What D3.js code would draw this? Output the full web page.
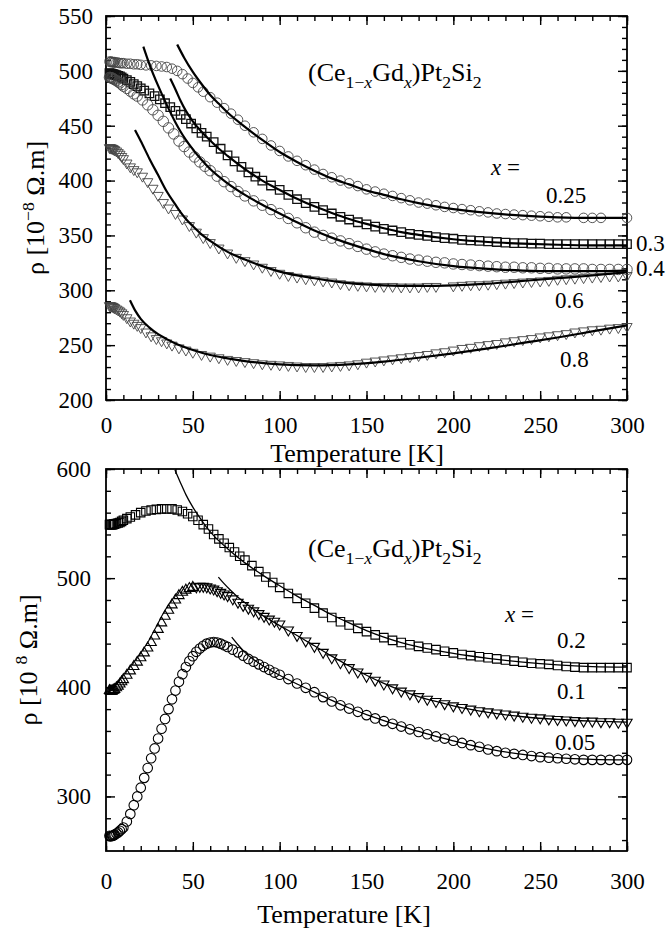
<!DOCTYPE html>
<html>
<head>
<meta charset="utf-8">
<script src="https://cdn.jsdelivr.net/npm/d3@7"></script>
<style>
  body { margin: 0; background: #fff; }
</style>
</head>
<body>
<svg id="chart" width="666" height="932"></svg>
<script>
// ---- top panel: x = 0.25, 0.3, 0.4, 0.6, 0.8  [T (K), rho]
var top25 = [[2,508.5],[2.5,508],[3,508.5],[3.5,508],[4,508],[4.5,507.5],[5,508],[6,507.5],[7,507.5],[8,507],[9,507],[10,507],[12,506.5],[14,506.5],[16,506],[18,506],[20,505.5],[23,505],[26,505],[29,504.5],[32,504],[35,503.5],[38,502],[41,500],[44,497],[47,493],[50,489],[53,485],[56,481],[60,476],[64,471],[68,466],[72,461],[76,455.5],[80,450],[85,444],[90,438],[95,432],[100,427],[105,422],[110,418],[115,414],[120,410],[125,406],[130,403],[135,400],[140,397.5],[145,395],[150,392],[155,390],[160,388],[165,386],[170,384],[175,382],[180,380],[185,379],[190,377.5],[195,376],[200,375],[205,374],[210,373],[215,372],[220,371],[225,370],[230,369.5],[235,369],[240,368.5],[245,368],[250,367.5],[255,367],[260,366.5],[265,366.5],[275,366],[280,366],[285,366],[300,366]];
var top30 = [[2,498],[2.5,497.5],[3,497.5],[3.5,497],[4,497],[4.5,496.5],[5,496.5],[6,496],[7,495.5],[8,495],[9,494],[10,493],[12,491.5],[14,490],[16,488],[18,486],[20,484],[22,482],[25,479.5],[28,477],[31,474],[34,470.5],[37,467],[40,463.5],[43,460],[46,456],[49,452],[52,447.5],[55,443.5],[58,440],[62,435],[66,429],[70,423],[74,417.5],[78,412.5],[82,407.5],[86,403.5],[90,400],[95,395.5],[100,391.5],[105,387],[110,383],[115,379.5],[120,376],[125,373],[130,370],[135,367],[140,364.5],[145,362],[150,360],[155,358],[160,356],[165,354.5],[170,353],[175,351.5],[180,350.5],[185,349.5],[190,348.5],[195,347.5],[200,347],[205,346],[210,345.5],[215,345],[220,344.5],[225,344],[230,343.5],[235,343],[240,343],[245,342.5],[250,342.5],[255,342],[260,342],[265,342],[270,342],[275,342],[280,342],[285,342],[290,342],[295,342],[300,342]];
var top40 = [[2,494],[2.5,494],[3,493.5],[3.5,493.5],[4,493],[4.5,492.5],[5,492],[6,491],[7,490],[8,489],[9,487.5],[10,486],[12,484],[14,481.5],[16,479],[18,477],[21,473.5],[24,469],[27,464.5],[30,459.5],[33,454],[36,448],[39,442.5],[42,436],[45,431],[48,426],[51,421.5],[54,417],[57,413],[60,409],[64,404],[68,399],[72,394.5],[76,390],[80,386],[85,381.5],[90,377.5],[95,373.5],[100,370],[105,365.5],[110,361.5],[115,357],[120,353],[125,350],[130,347.5],[135,345],[140,342.5],[145,340],[150,337.5],[155,335],[160,333],[165,331.5],[170,330],[175,328.5],[180,327.5],[185,326.5],[190,325.5],[195,325],[200,324],[205,323.5],[210,323],[215,322.5],[220,322],[225,321.5],[230,321],[235,321],[240,320.5],[245,320.5],[250,320],[255,320],[260,319.5],[265,319.5],[270,319.5],[275,319.5],[280,319],[285,319],[290,319],[295,319],[300,319]];
var top60 = [[2,430],[2.5,430],[3,429.5],[3.5,429.5],[4,429],[4.5,428.5],[5,428],[6,427],[7,425.5],[8,424],[9,422],[10,420],[12,416],[14,412.5],[16,410],[18,408],[21,404],[24,399],[27,393],[30,386.5],[33,380],[36,375],[40,370],[44,365],[48,359],[52,353],[56,348],[60,343.5],[65,338.5],[70,334],[75,330],[80,327],[85,324],[90,321],[95,318],[100,315.5],[105,313.5],[110,312],[115,310.5],[120,309.5],[125,308.5],[130,307.5],[135,306],[140,305],[145,304.5],[150,304],[155,303.5],[160,303.5],[165,303.5],[170,303],[175,303],[180,303],[185,303.5],[190,303.5],[200,304],[205,304.5],[210,305],[215,305],[220,305.5],[225,306],[230,306.5],[235,307],[240,307.5],[245,308],[250,308.5],[255,309],[260,310],[265,310.5],[270,311],[275,311.5],[280,312],[285,312.5],[290,313],[295,313],[300,313.5]];
var top80 = [[2,286],[2.5,286],[3,285.5],[3.5,285.5],[4,285],[4.5,284.5],[5,284],[6,283],[7,282],[8,281],[9,279.5],[10,278],[12,275],[14,272],[16,270],[18,268],[20,266],[23,262],[26,258.5],[29,256],[32,254],[35,252],[38,250],[42,247.5],[46,245.5],[50,243.5],[55,241.5],[60,240],[65,238.5],[70,237],[75,236],[80,235],[85,234],[90,233],[95,232.5],[100,232],[105,231.5],[110,231],[115,230.5],[120,230.5],[125,230.5],[130,231],[135,231.5],[140,232],[145,233],[150,234.5],[155,235.5],[160,236.5],[165,237.5],[170,238.5],[175,239.5],[180,240.5],[185,241.5],[190,243],[195,244],[200,245.5],[205,247],[210,248],[215,249.5],[220,250.5],[225,251.5],[230,253],[235,254],[240,255],[245,256],[250,257.5],[255,258.5],[260,259.5],[265,260.5],[270,262],[275,263],[280,264],[285,264.5],[290,265.5],[295,266],[300,267]];

// fitted curves, top panel
var fit25 = [[41,524],[45,512],[50,499],[55,488],[60,478],[65,470],[70,462],[80,449],[90,437],[100,426],[110,417],[120,409],[130,402],[140,396.5],[150,391],[160,387],[170,383],[180,379.5],[190,376.5],[200,374],[220,370.5],[240,368],[260,366.5],[280,366],[300,366]];
var fit30 = [[37,493],[40,483],[43,472.5],[46,463.5],[50,454],[55,444.5],[60,436.5],[65,429],[70,422.5],[80,410.5],[90,400],[100,391.5],[110,383.5],[120,376.5],[130,370.5],[140,365],[150,360.5],[160,356.5],[170,353],[180,350.5],[200,346.5],[220,344],[240,342.5],[260,341.5],[280,341],[300,341]];
var fit40 = [[21.5,522],[25,506],[30,486.5],[35,469],[40,453],[43,444.5],[46,437],[50,428.5],[55,419],[60,410.5],[70,397.5],[80,387],[90,378],[100,370],[110,362],[120,354.5],[130,348],[140,342.5],[150,337.5],[160,333],[170,329.5],[180,326.5],[200,322],[220,319.5],[240,318],[260,317.5],[280,317.5],[300,318]];
var fit60 = [[16.7,446],[20,436],[25,420],[30,405],[35,390],[40,378],[43,371],[46,365],[50,358.5],[55,351],[60,345],[70,335],[80,328],[90,322],[100,317],[120,311],[140,306.5],[160,304.5],[180,304],[200,304.5],[220,306],[240,308.5],[260,311],[280,313.5],[300,316.5]];
var fit80 = [[13.8,291],[17,281],[20,274],[25,266],[30,260],[35,255.5],[40,251.5],[50,245.5],[60,241],[70,238],[80,235.5],[100,232.5],[120,231.5],[140,232.5],[160,235],[180,238.5],[200,242.5],[220,247],[240,252],[260,257],[280,262.5],[300,268]];

// ---- bottom panel: x = 0.2, 0.1, 0.05
var bot20 = [[2,549],[2.5,549],[3,549],[3.5,549],[4,549],[4.5,549.5],[5,549.5],[6,550],[7,550.5],[8,551],[9,552],[10,553],[12,554.5],[14,556],[17,558],[20,560],[23,561.5],[26,562.5],[29,563],[32,563.5],[35,563.5],[38,563.5],[41,562.5],[44,561],[47,559],[50,556.5],[53,553],[56,549],[59,545],[62,540],[65,536],[68,532],[71,528],[74,524],[77,520],[80,516.5],[84,511.5],[88,506],[92,501],[96,496],[100,491.5],[105,486],[110,481.5],[115,477],[120,472.5],[125,468],[130,464],[135,460],[140,457],[145,454],[150,451],[155,448],[160,445.5],[165,443],[170,441],[175,439],[180,437.5],[185,436],[190,434.5],[195,433],[200,431.5],[205,430],[210,429],[215,428],[220,427],[225,426],[230,425],[235,424],[240,423],[245,422],[250,421.5],[255,421],[260,420],[265,419],[270,418.5],[275,418],[280,418],[285,418],[290,418],[295,418],[300,418]];
var bot10Up = [[2,397],[2.5,396.5],[3,396.5],[3.5,396.5],[4,397],[4.5,397.5],[5,398],[6,399.5],[7,401],[8,403],[9,405],[10,407],[12,411],[14,415],[16,419],[18,423],[20,427],[22,431.5],[24,436],[26,441],[28,447],[30,453],[32,459],[34,465],[36,470.5],[38,475.5],[40,480],[42,484],[44,487],[46,489],[48,490.5],[50,491.5]];
var bot10Down = [[52,492],[54,492.5],[56,492.5],[58,492],[60,491],[62,490],[64,488.5],[66,487],[68,485.5],[70,484],[73,481],[76,478],[79,475],[82,472.5],[85,470],[88,467.5],[91,465],[94,462.5],[97,460.5],[100,458],[105,452.5],[110,447.5],[115,442.5],[120,437.5],[125,432],[130,427],[135,422.5],[140,418],[145,414],[150,410],[155,406.5],[160,403],[165,399.5],[170,396.5],[175,394],[180,391.5],[185,389],[190,387],[195,385],[200,383],[205,381.5],[210,380],[215,378.5],[220,377.5],[225,376.5],[230,375.5],[235,374.5],[240,373.5],[245,372.5],[250,372],[255,371],[260,370.5],[265,370],[270,369.5],[275,369],[280,369],[285,368.5],[290,368.5],[295,368],[300,368]];
var bot05 = [[2,264],[2.5,263.5],[3,263.5],[3.5,264],[4,264],[4.5,264.5],[5,265],[6,266],[7,267],[8,268.5],[9,270],[10,271.5],[12,277],[14,284],[16,292],[18,300],[20,308],[22,317],[24,326],[26,335],[28,344],[30,353],[32,362],[34,371],[36,380],[38,389],[40,397],[42,405],[44,412],[46,418.5],[48,424],[50,428.5],[52,432.5],[54,435.5],[56,438],[58,440],[60,441],[62,441.5],[64,441],[66,440],[68,438.5],[70,437],[73,434.5],[76,432],[79,429],[82,426],[85,423.5],[88,421],[91,418.5],[94,416],[97,413.5],[100,411.5],[105,407.5],[110,403.5],[115,399.5],[120,395.5],[125,391],[130,387],[135,383.5],[140,380.5],[145,377.5],[150,374.5],[155,371.5],[160,369],[165,366.5],[170,364],[175,361.5],[180,359],[185,357],[190,355],[195,353],[200,351],[205,349],[210,347],[215,345.5],[220,343],[225,341.5],[230,340],[235,339],[240,338],[245,337],[250,336],[255,335.5],[260,335],[265,334.5],[270,334],[275,333.5],[280,333.5],[285,333.5],[290,333.5],[295,333.5],[300,333.5]];

var fit20 = [[39.7,599],[43,587],[46,576.5],[50,565],[54,555.5],[58,546.5],[62,539],[70,527],[80,514],[90,503],[100,493],[110,483.5],[120,475],[130,466.5],[140,459],[150,452],[160,446],[170,441],[180,437],[200,431],[220,426.5],[240,423],[260,420.5],[280,419],[300,418.5]];
var fit10 = [[64.7,501],[68,495],[72,488.5],[76,482.5],[80,477.5],[85,471.5],[90,466],[100,456.5],[110,447.5],[120,438],[130,428.5],[140,419.5],[150,411],[160,403.5],[170,397],[180,391.5],[190,387],[200,383],[220,377],[240,373],[260,370.5],[280,369],[300,368]];
var fit05 = [[72.4,446],[76,439],[80,432],[85,425.5],[90,420],[100,411],[110,403],[120,395.5],[130,388],[140,381],[150,375],[160,369.5],[170,364.5],[180,359.5],[190,355],[200,351],[220,343.5],[240,338.5],[260,335.5],[280,334],[300,333.5]];

var xTicks = [0, 50, 100, 150, 200, 250, 300];
var topYTicks = [200, 250, 300, 350, 400, 450, 500, 550];
var botYTicks = [300, 400, 500, 600];
var topNames = ['0.25', '0.3', '0.4', '0.6', '0.8'];
var botNames = ['0.2', '0.1', '0.05'];

var serif = '"Liberation Serif", "Times New Roman", Times, "DejaVu Serif", serif';
var svg = d3.select('#chart').attr('font-family', serif);
var left = 106, right = 627;

var circle = { type: d3.symbolCircle, size: 72, rot: 0 };
var bigCircle = { type: d3.symbolCircle, size: 86, rot: 0 };
var square = { type: d3.symbolSquare, size: 72, rot: 0 };
var triUp = { type: d3.symbolTriangle, size: 46, rot: 0 };
var triDown = { type: d3.symbolTriangle, size: 46, rot: 180 };

function richText(parent, x, y, size, parts) {
  var t = parent.append('text')
    .attr('x', x).attr('y', y)
    .attr('font-size', size)
    .attr('font-family', serif)
    .attr('fill', '#000');
  var shift = 0;
  parts.forEach(function(p) {
    var target = p.sub ? size * 0.27 : (p.sup ? -size * 0.4 : 0);
    var ts = t.append('tspan').text(p.t).attr('dy', target - shift);
    if (p.sub || p.sup) ts.attr('font-size', size * 0.68);
    if (p.i) ts.attr('font-style', 'italic');
    if (p.dx) ts.attr('dx', p.dx);
    shift = target;
  });
  return t;
}

function formula(g, x, y) {
  richText(g, x, y, 26, [
    { t: '(Ce' }, { t: '1\u2212', sub: true }, { t: 'x', sub: true, i: true },
    { t: 'Gd' }, { t: 'x', sub: true, i: true },
    { t: ')Pt' }, { t: '2', sub: true }, { t: 'Si' }, { t: '2', sub: true }
  ]);
}

function panel(cfg) {
  var x = d3.scaleLinear().domain([0, 300]).range([left, right]);
  var y = d3.scaleLinear().domain(cfg.yDomain).range([cfg.bottom, cfg.top]);
  var g = svg.append('g');

  var xMinor = d3.range(0, 301, 10);
  var yMinor = d3.range(cfg.yMinorStart, cfg.yDomain[1] + 1, cfg.yMinorStep);

  function axisGroup(axis, tr) {
    var a = g.append('g').attr('transform', tr).call(axis);
    a.select('.domain').remove();
    a.selectAll('line').attr('stroke', '#000').attr('stroke-width', 1.4);
    a.attr('font-family', serif).attr('font-size', 23);
    a.selectAll('text').attr('font-family', serif).attr('fill', '#000');
    return a;
  }
  axisGroup(d3.axisBottom(x).tickValues(xMinor).tickSize(-5).tickFormat(''), 'translate(0,' + cfg.bottom + ')');
  axisGroup(d3.axisTop(x).tickValues(xMinor).tickSize(-5).tickFormat(''), 'translate(0,' + cfg.top + ')');
  axisGroup(d3.axisLeft(y).tickValues(yMinor).tickSize(-5).tickFormat(''), 'translate(' + left + ',0)');
  axisGroup(d3.axisRight(y).tickValues(yMinor).tickSize(-5).tickFormat(''), 'translate(' + right + ',0)');

  axisGroup(d3.axisBottom(x).tickValues(xTicks).tickSize(-9).tickPadding(cfg.xPad).tickFormat(d3.format('d')), 'translate(0,' + cfg.bottom + ')');
  axisGroup(d3.axisTop(x).tickValues(xTicks).tickSize(-9).tickFormat(''), 'translate(0,' + cfg.top + ')');
  axisGroup(d3.axisLeft(y).tickValues(cfg.yTicks).tickSize(-9).tickPadding(cfg.yPad).tickFormat(d3.format('d')), 'translate(' + left + ',0)');
  axisGroup(d3.axisRight(y).tickValues(cfg.yTicks).tickSize(-9).tickFormat(''), 'translate(' + right + ',0)');

  g.append('rect')
    .attr('x', left).attr('y', cfg.top)
    .attr('width', right - left).attr('height', cfg.bottom - cfg.top)
    .attr('fill', 'none').attr('stroke', '#000').attr('stroke-width', 1.8);

  cfg.series.forEach(function(s) {
    var sym = d3.symbol().type(s.shape.type).size(s.shape.size);
    g.append('g').selectAll('path')
      .data(s.data)
      .enter()
      .append('path')
      .attr('d', sym)
      .attr('transform', function(d) {
        return 'translate(' + x(d[0]) + ',' + y(d[1]) + ') rotate(' + s.shape.rot + ')';
      })
      .attr('fill', 'none')
      .attr('stroke', s.color)
      .attr('stroke-width', s.width);
  });

  var line = d3.line()
    .x(function(d) { return x(d[0]); })
    .y(function(d) { return y(d[1]); })
    .curve(d3.curveMonotoneX);

  cfg.fits.forEach(function(f) {
    g.append('path')
      .attr('d', line(f))
      .attr('fill', 'none')
      .attr('stroke', '#000')
      .attr('stroke-width', cfg.lineWidth);
  });

  richText(g, cfg.titleX, cfg.titleY, 26, [{ t: 'Temperature [K]' }])
    .attr('text-anchor', 'middle');

  var yt = g.append('g').attr('transform', 'translate(' + cfg.labX + ',' + cfg.labY + ') rotate(-90)');
  richText(yt, 0, 0, 26, cfg.yLabel).attr('text-anchor', 'middle');

  formula(g, 308, cfg.formulaY);

  richText(g, cfg.eqX, cfg.eqY, 23, [{ t: 'x', i: true }, { t: ' =' }]);
  cfg.names.forEach(function(n, i) {
    richText(g, cfg.namePos[i][0], cfg.namePos[i][1], 23, [{ t: n }]);
  });
}

panel({
  top: 16, bottom: 400,
  yDomain: [200, 550], yTicks: topYTicks, yMinorStart: 200, yMinorStep: 10,
  xPad: 17, yPad: 13, lineWidth: 2.2,
  titleX: 357, titleY: 462,
  labX: 44, labY: 208,
  yLabel: [{ t: '\u03c1 [10' }, { t: '\u22128', sup: true }, { t: ' \u03a9.m]' }],
  formulaY: 81, eqX: 491, eqY: 175,
  names: topNames,
  namePos: [[546, 203], [636, 251], [636, 276], [555, 308], [560, 367]],
  series: [
    { data: top25, shape: circle, color: '#444', width: 0.9 },
    { data: top30, shape: square, color: '#111', width: 1.3 },
    { data: top40, shape: bigCircle, color: '#444', width: 0.9 },
    { data: top60, shape: triDown, color: '#444', width: 0.9 },
    { data: top80, shape: triDown, color: '#444', width: 0.9 }
  ],
  fits: [fit25, fit30, fit40, fit60, fit80]
});

panel({
  top: 469, bottom: 851,
  yDomain: [250, 600], yTicks: botYTicks, yMinorStart: 260, yMinorStep: 20,
  xPad: 22, yPad: 15, lineWidth: 1.3,
  titleX: 344, titleY: 923,
  labX: 37, labY: 660,
  yLabel: [{ t: '\u03c1 [10' }, { t: '8', sup: true, dx: 7 }, { t: ' \u03a9.m]' }],
  formulaY: 557, eqX: 505, eqY: 622,
  names: botNames,
  namePos: [[557, 648], [557, 699], [555, 750]],
  series: [
    { data: bot20, shape: square, color: '#000', width: 1.1 },
    { data: bot10Up, shape: triUp, color: '#000', width: 1.1 },
    { data: bot10Down, shape: triDown, color: '#000', width: 1.1 },
    { data: bot05, shape: circle, color: '#000', width: 1.1 }
  ],
  fits: [fit20, fit10, fit05]
});
</script>
</body>
</html>
